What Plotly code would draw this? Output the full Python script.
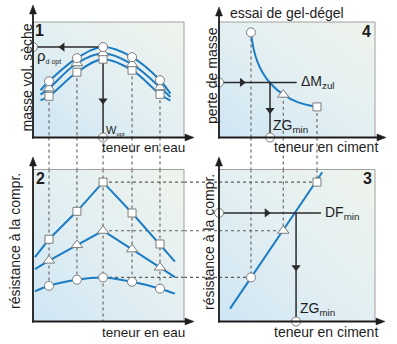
import plotly.graph_objects as go

W, H = 397, 344

# ---------------- data (schematic, unlabelled axes: values in % of each panel) ----------------
# panels 1 and 2 share the water-content scale
water = [10.6, 29.1, 46.4, 65.6, 84.1]
water_ends = [5.0, 91.0]

rho_circle = [48.7, 68.7, 78.3, 69.6, 49.6]
rho_triangle = [42.6, 64.3, 73.0, 63.5, 43.5]
rho_square = [35.7, 56.5, 67.8, 58.3, 37.4]
rho_circle_ends = [40.9, 38.0]
rho_triangle_ends = [37.1, 35.0]
rho_square_ends = [32.2, 32.0]

strength_ends_x = [1.3, 94.0]
rc_square = [54.1, 72.5, 91.7, 71.4, 51.0]
rc_triangle = [40.1, 50.3, 59.7, 47.5, 35.5]
rc_circle = [23.5, 27.5, 29.0, 26.1, 21.6]
rc_square_ends = [42.3, 39.4]
rc_triangle_ends = [34.4, 29.2]
rc_circle_ends = [19.8, 18.3]

# panels 3 and 4 share the cement-content scale
cement = [20.5, 41.2, 62.8]
mass_loss = [91.0, 37.1, 26.5]
loss_curve_x = [20.5, 22.2, 24.8, 28.0, 32.7, 41.2, 50.8, 62.8]
loss_curve_y = [91.0, 76.5, 65.0, 56.0, 47.2, 37.1, 30.4, 26.5]
strength_line_x = [7.1, 66.2]
strength_line_y = [8.5, 98.2]

dm_zul = 47.7
zg_min_frost = 32.7
df_min = 71.4
zg_min_strength = 49.4

i_opt = 2
w_opt = water[i_opt]
rho_opt = rho_circle[i_opt]
rc_opt = [rc_circle[i_opt], rc_triangle[i_opt], rc_square[i_opt]]

# ---------------- styles / layout constants ----------------
BLUE = '#1b7cc3'
DARK = '#2a2a2a'
DOT = '#5e5e5e'
MKL = '#7c7c7c'
AXC = '#1e1e1e'
FONT = 'Liberation Sans, Arial, sans-serif'
BG = [[0, '#cfe6f4'], [0.5, '#e3eff2'], [1, '#eff4ec']]

LEFT = (33, 184)
RIGHT = (219, 375)
TOP = (22, 137.5)
BOT = (169.5, 321.5)


def pxx(v):
    return v / W


def pxy(v):
    return 1 - v / H


fig = go.Figure()


def ids(n):
    return ('x' if n == 1 else 'x%d' % n, 'y' if n == 1 else 'y%d' % n)


def add(n, **kw):
    xa, ya = ids(n)
    fig.add_trace(go.Scatter(xaxis=xa, yaxis=ya, hoverinfo='skip', showlegend=False, **kw))


dot = dict(color=DOT, width=1.1, dash='dot')

# backgrounds
for n in (1, 2, 3, 4):
    xa, ya = ids(n)
    fig.add_trace(go.Heatmap(x=[0, 100], y=[0, 100], z=[[0, 0.5], [0.5, 1]], zmin=0, zmax=1,
                             zsmooth='best', colorscale=BG, showscale=False, hoverinfo='skip',
                             xaxis=xa, yaxis=ya))

# dotted guide lines inside panels
for i in (0, 1, 3, 4):
    add(1, x=[water[i]] * 2, y=[rho_square[i], 0], mode='lines', line=dot)
for i in range(5):
    add(2, x=[water[i]] * 2, y=[100, 0 if i == i_opt else rc_circle[i]], mode='lines', line=dot)
for v in rc_opt:
    add(2, x=[w_opt, 100], y=[v, v], mode='lines', line=dot)
for c, v in zip(cement, rc_opt):
    add(3, x=[0, c], y=[v, v], mode='lines', line=dot)
    add(3, x=[c, c], y=[100, v], mode='lines', line=dot)
for c, m in zip(cement, mass_loss):
    add(4, x=[c, c], y=[m, 0], mode='lines', line=dot)

# dotted guide lines across the gaps between panels
shapes = []
for w in water:
    shapes.append(dict(type='line', xref='x', yref='paper', x0=w, x1=w,
                       y0=pxy(TOP[1]), y1=pxy(BOT[0]), line=dot))
for c in cement:
    shapes.append(dict(type='line', xref='x4', yref='paper', x0=c, x1=c,
                       y0=pxy(TOP[1]), y1=pxy(BOT[0]), line=dot))
for v in rc_opt:
    shapes.append(dict(type='line', xref='paper', yref='y2', x0=pxx(LEFT[1]), x1=pxx(RIGHT[0]),
                       y0=v, y1=v, line=dot))
# panel frames
for n in (1, 2, 3, 4):
    xa, ya = ids(n)
    shapes.append(dict(type='rect', xref=xa + ' domain', yref=ya + ' domain', x0=0, x1=1, y0=0, y1=1,
                       line=dict(color='#a0a0a0', width=1)))


# axes with arrowheads (layout drawing in paper coordinates)
def axis_up(x, y_top, y_bot):
    shapes.append(dict(type='line', xref='paper', yref='paper', x0=pxx(x), x1=pxx(x),
                       y0=pxy(y_bot), y1=pxy(y_top + 6), line=dict(color=AXC, width=1.8)))
    path = 'M %f %f L %f %f L %f %f Z' % (pxx(x), pxy(y_top), pxx(x - 3.5), pxy(y_top + 9),
                                          pxx(x + 3.5), pxy(y_top + 9))
    shapes.append(dict(type='path', xref='paper', yref='paper', path=path, fillcolor=AXC,
                       line=dict(color=AXC, width=0.5)))


def axis_right(y, x_left, x_right):
    shapes.append(dict(type='line', xref='paper', yref='paper', x0=pxx(x_left), x1=pxx(x_right - 6),
                       y0=pxy(y), y1=pxy(y), line=dict(color=AXC, width=1.8)))
    path = 'M %f %f L %f %f L %f %f Z' % (pxx(x_right), pxy(y), pxx(x_right - 9), pxy(y - 3.5),
                                          pxx(x_right - 9), pxy(y + 3.5))
    shapes.append(dict(type='path', xref='paper', yref='paper', path=path, fillcolor=AXC,
                       line=dict(color=AXC, width=0.5)))


axis_up(LEFT[0], 5, TOP[1] + 0.9)
axis_right(TOP[1], LEFT[0] - 0.9, 194)
axis_up(RIGHT[0], 7, TOP[1] + 0.9)
axis_right(TOP[1], RIGHT[0] - 0.9, 386)
axis_up(LEFT[0], 157, BOT[1] + 0.9)
axis_right(BOT[1], LEFT[0] - 0.9, 194)
axis_up(RIGHT[0], 157, BOT[1] + 0.9)
axis_right(BOT[1], RIGHT[0] - 0.9, 385)

# blue curves
bl = dict(color=BLUE, width=2)
for ys, ends in ((rho_square, rho_square_ends), (rho_triangle, rho_triangle_ends), (rho_circle, rho_circle_ends)):
    add(1, x=[water_ends[0]] + water + [water_ends[1]], y=[ends[0]] + ys + [ends[1]],
        mode='lines', line=dict(bl, shape='spline'))
sx = [strength_ends_x[0]] + water + [strength_ends_x[1]]
add(2, x=sx, y=[rc_square_ends[0]] + rc_square + [rc_square_ends[1]], mode='lines', line=bl)
add(2, x=sx, y=[rc_triangle_ends[0]] + rc_triangle + [rc_triangle_ends[1]], mode='lines', line=bl)
add(2, x=sx, y=[rc_circle_ends[0]] + rc_circle + [rc_circle_ends[1]], mode='lines', line=dict(bl, shape='spline'))
add(4, x=loss_curve_x, y=loss_curve_y, mode='lines', line=dict(bl, shape='spline'))
add(3, x=strength_line_x, y=strength_line_y, mode='lines', line=bl)

# dark construction lines with arrowheads
dk = dict(color=DARK, width=1.5)
add(1, x=[0, w_opt, w_opt], y=[rho_opt, rho_opt, 0], mode='lines', line=dk)
add(4, x=[0, 49.8], y=[dm_zul, dm_zul], mode='lines', line=dk)
add(4, x=[zg_min_frost] * 2, y=[dm_zul, 0], mode='lines', line=dk)
add(3, x=[0, 65.4], y=[df_min, df_min], mode='lines', line=dk)
add(3, x=[zg_min_strength] * 2, y=[df_min, 0], mode='lines', line=dk)


def head(n, x, y, sym):
    add(n, x=[x], y=[y], mode='markers', marker=dict(symbol=sym, size=8, color=DARK, line=dict(width=0)))


head(1, w_opt * 0.42, rho_opt, 'triangle-left')
head(1, w_opt, rho_opt * 0.41, 'triangle-down')
head(4, zg_min_frost * 0.45, dm_zul, 'triangle-right')
head(4, zg_min_frost, dm_zul * 0.5, 'triangle-down')
head(3, zg_min_strength * 0.62, df_min, 'triangle-right')
head(3, zg_min_strength, df_min * 0.5, 'triangle-down')


# markers
def mk(n, xs, ys, sym, size):
    add(n, x=xs, y=ys, mode='markers', cliponaxis=False,
        marker=dict(symbol=sym, size=size, color='white', line=dict(color=MKL, width=1)))


mk(1, water, rho_square, 'square', 8)
mk(1, water, rho_triangle, 'triangle-up', 10)
mk(1, water, rho_circle, 'circle', 9)
mk(1, [0, w_opt], [rho_opt, 0], 'circle', 9)
mk(2, water, rc_square, 'square', 8)
mk(2, water, rc_triangle, 'triangle-up', 10)
mk(2, water, rc_circle, 'circle', 9)
mk(4, [cement[0]], [mass_loss[0]], 'circle', 9)
mk(4, [cement[1]], [mass_loss[1]], 'triangle-up', 10)
mk(4, [cement[2]], [mass_loss[2]], 'square', 8)
mk(4, [0, zg_min_frost], [dm_zul, 0], 'circle', 9)
mk(3, [cement[0]], [rc_opt[0]], 'circle', 9)
mk(3, [cement[1]], [rc_opt[1]], 'triangle-up', 10)
mk(3, [cement[2]], [rc_opt[2]], 'square', 8)
mk(3, [0, zg_min_strength], [df_min, 0], 'circle', 9)

# ---------------- texts ----------------
ann = []


def ptext(x, y, t, size=14, angle=0, bold=False):
    ann.append(dict(x=pxx(x), y=pxy(y), xref='paper', yref='paper', text='<b>%s</b>' % t if bold else t,
                    showarrow=False, textangle=angle, xanchor='center', yanchor='middle',
                    font=dict(family=FONT, size=size, color='#1e1e1e')))


ptext(26.5, 77, 'masse vol. sèche', angle=-90)
ptext(143.5, 147, 'teneur en eau', 13.5)
ptext(15, 241, 'résistance à la compr.', angle=-90)
ptext(143.5, 332, 'teneur en eau', 13.5)
ptext(212, 75, 'perte de masse', angle=-90)
ptext(325.5, 147, 'teneur en ciment')
ptext(209, 242, 'résistance à la compr.', angle=-90)
ptext(326, 332, 'teneur en ciment')
ptext(286.5, 13, 'essai de gel-dégel')
ptext(39.5, 31, '1', 16, bold=True)
ptext(366, 32, '4', 16, bold=True)
ptext(40.5, 178, '2', 16, bold=True)
ptext(367.5, 178, '3', 16, bold=True)


def dtext(n, x, y, t, size=14):
    xa, ya = ids(n)
    ann.append(dict(x=x, y=y, xref=xa, yref=ya, text=t, showarrow=False, xanchor='left', yanchor='middle',
                    font=dict(family=FONT, size=size, color='#1e1e1e')))


dtext(1, 1.5, rho_opt - 8, "ρ<sub><span style='font-size:7px'>d opt</span></sub>", 15)
dtext(1, w_opt + 0.8, 6, "W<sub><span style='font-size:6px'>opt</span></sub>", 11)
dtext(4, 51.0, dm_zul, 'ΔM<sub>zul</sub>')
dtext(4, zg_min_frost + 0.8, 10, 'ZG<sub>min</sub>')
dtext(3, 66.5, df_min, 'DF<sub>min</sub>')
dtext(3, zg_min_strength + 1, 8, 'ZG<sub>min</sub>')

ax_common = dict(range=[0, 100], visible=False, fixedrange=True)
fig.update_layout(
    width=W, height=H, margin=dict(l=0, r=0, t=0, b=0),
    paper_bgcolor='white', plot_bgcolor='white', showlegend=False,
    xaxis=dict(ax_common, domain=[pxx(LEFT[0]), pxx(LEFT[1])], anchor='y'),
    yaxis=dict(ax_common, domain=[pxy(TOP[1]), pxy(TOP[0])], anchor='x'),
    xaxis2=dict(ax_common, domain=[pxx(LEFT[0]), pxx(LEFT[1])], anchor='y2'),
    yaxis2=dict(ax_common, domain=[pxy(BOT[1]), pxy(BOT[0])], anchor='x2'),
    xaxis3=dict(ax_common, domain=[pxx(RIGHT[0]), pxx(RIGHT[1])], anchor='y3'),
    yaxis3=dict(ax_common, domain=[pxy(BOT[1]), pxy(BOT[0])], anchor='x3'),
    xaxis4=dict(ax_common, domain=[pxx(RIGHT[0]), pxx(RIGHT[1])], anchor='y4'),
    yaxis4=dict(ax_common, domain=[pxy(TOP[1]), pxy(TOP[0])], anchor='x4'),
    shapes=shapes, annotations=ann,
)

fig.write_html('out.html', config=dict(displayModeBar=False))
